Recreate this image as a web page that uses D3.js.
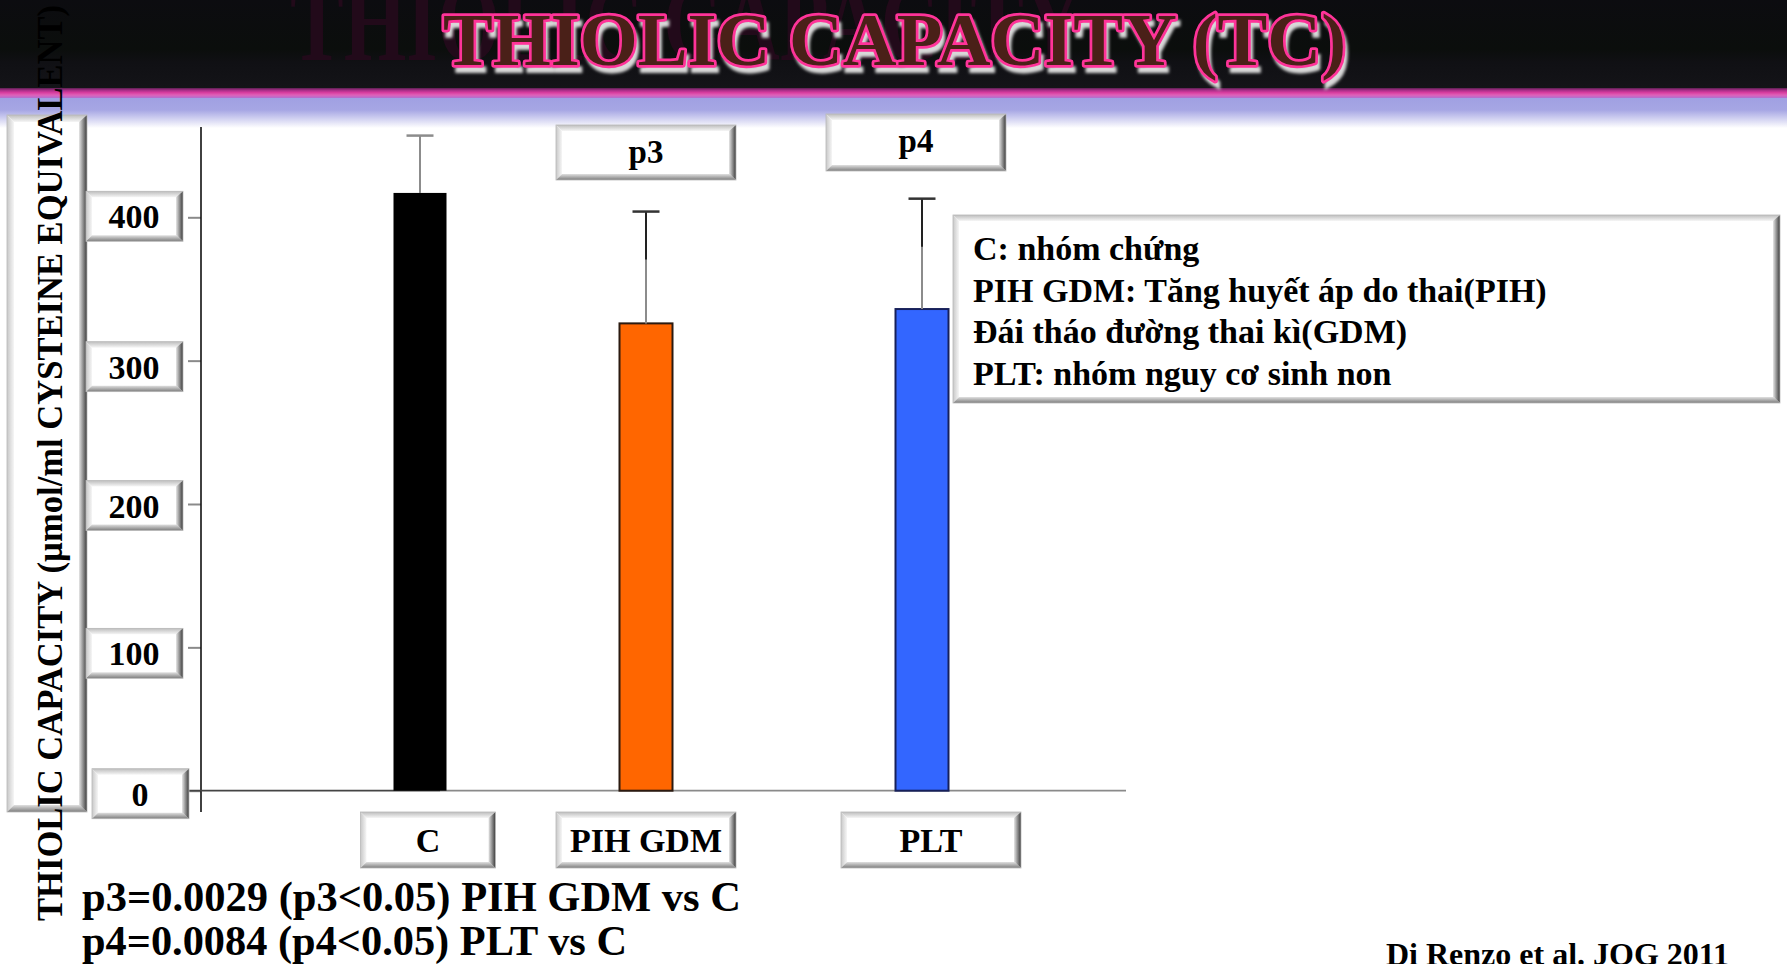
<!DOCTYPE html>
<html>
<head>
<meta charset="utf-8">
<script src="https://cdn.jsdelivr.net/npm/d3@7"></script>
<style>
  html, body { margin: 0; padding: 0; background: #ffffff; }
  svg { display: block; }
  text { font-family: "Liberation Serif", "Times New Roman", serif; font-weight: bold; }
</style>
</head>
<body>
<svg id="chart" width="1787" height="964"></svg>
<script>
// ---- data ----
const categories = ["C", "PIH GDM", "PLT"];
const meanValues = [417, 326, 336];
const sdValues = [40, 78, 77];
const barColors = ["#000000", "#ff6600", "#3366ff"];
const barOutlines = ["#000000", "#2b1a10", "#16205a"];
const yTicks = [0, 100, 200, 300, 400];
const compareLabels = ["p3", "p4"];
const compareGroups = ["PIH GDM", "PLT"];
const pValueLines = [
  "p3=0.0029 (p3<0.05) PIH GDM vs C",
  "p4=0.0084 (p4<0.05) PLT vs C"
];
const legendLines = [
  "C: nhóm chứng",
  "PIH GDM: Tăng huyết áp do thai(PIH)",
  "Đái tháo đường thai kì(GDM)",
  "PLT: nhóm nguy cơ sinh non"
];
const titleText = "THIOLIC CAPACITY (TC)";
const yTitle = "THIOLIC CAPACITY (µmol/ml  CYSTEINE EQUIVALENT)";
const sourceText = "Di Renzo et al. JOG 2011";

// ---- layout ----
const svg = d3.select("#chart");
const W = 1787, H = 964;
const defs = svg.append("defs");

function linGrad(id, x2, y2, stops) {
  const g = defs.append("linearGradient").attr("id", id)
    .attr("x1", 0).attr("y1", 0).attr("x2", x2).attr("y2", y2);
  stops.forEach(([o, c]) => g.append("stop").attr("offset", o).attr("stop-color", c));
}
linGrad("hdr", 0, 1, [[0, "#0c0c10"], [0.55, "#0b0e0c"], [0.7, "#101014"], [1, "#141418"]]);
linGrad("stripe", 0, 1, [[0, "#5a2050"], [0.2, "#a22c84"], [0.45, "#d63c9e"], [0.7, "#e060b8"], [1, "#b070d0"]]);
linGrad("lav", 0, 1, [[0, "#a0a0e2"], [0.4, "#a6a6e4"], [1, "#ffffff"]]);
linGrad("bvTop", 0, 1, [[0, "#bdbdbd"], [1, "#f6f6f6"]]);
linGrad("bvLeft", 1, 0, [[0, "#c8c8c8"], [1, "#f6f6f6"]]);
linGrad("bvRight", 1, 0, [[0, "#e6e6e6"], [1, "#3a3a3a"]]);
linGrad("bvBottom", 0, 1, [[0, "#e0e0e0"], [1, "#7c7c7c"]]);

const blur = defs.append("filter").attr("id", "soft").attr("x", "-10%").attr("y", "-30%")
  .attr("width", "120%").attr("height", "160%");
blur.append("feGaussianBlur").attr("stdDeviation", 1.6);

// bevelled panel used for every label box
function bevelBox(g, x, y, w, h, b = 6) {
  const p = g.append("g");
  p.append("rect").attr("x", x).attr("y", y).attr("width", w).attr("height", h).attr("fill", "#ffffff");
  const poly = (pts, fill) => p.append("polygon").attr("points", pts.map(d => d.join(",")).join(" ")).attr("fill", fill);
  poly([[x, y], [x + w, y], [x + w - b, y + b], [x + b, y + b]], "url(#bvTop)");
  poly([[x, y], [x + b, y + b], [x + b, y + h - b], [x, y + h]], "url(#bvLeft)");
  poly([[x + w, y], [x + w, y + h], [x + w - b - 1, y + h - b], [x + w - b - 1, y + b]], "url(#bvRight)");
  poly([[x, y + h], [x + w, y + h], [x + w - b, y + h - b], [x + b, y + h - b]], "url(#bvBottom)");
  p.append("rect").attr("x", x).attr("y", y).attr("width", w).attr("height", h)
    .attr("fill", "none").attr("stroke", "#b8b8b8").attr("stroke-width", 0.8);
  return p;
}

// ---- header band ----
svg.append("rect").attr("x", 0).attr("y", 0).attr("width", W).attr("height", 89).attr("fill", "url(#hdr)");
svg.append("rect").attr("x", 0).attr("y", 88).attr("width", W).attr("height", 10).attr("fill", "url(#stripe)");
svg.append("rect").attr("x", 0).attr("y", 98).attr("width", W).attr("height", 30).attr("fill", "url(#lav)");

// faint echo of the title in the header
svg.append("text").attr("x", 290).attr("y", 60)
  .attr("font-size", 112).attr("fill", "#220a1a")
  .attr("textLength", 792).attr("lengthAdjust", "spacingAndGlyphs")
  .text("THIOLIC CAPACITY");

// title: soft light shadow, pink outline, dark fill
svg.append("text").attr("x", 446).attr("y", 71)
  .attr("font-size", 75).attr("fill", "#d8d8d8").attr("stroke", "#d8d8d8").attr("stroke-width", 4)
  .attr("filter", "url(#soft)")
  .attr("textLength", 903).attr("lengthAdjust", "spacingAndGlyphs")
  .text(titleText);
svg.append("text").attr("x", 443).attr("y", 65)
  .attr("font-size", 75).attr("fill", "#4a2018").attr("stroke", "#ff3399").attr("stroke-width", 5.5)
  .attr("paint-order", "stroke").attr("stroke-linejoin", "round")
  .attr("textLength", 903).attr("lengthAdjust", "spacingAndGlyphs")
  .text(titleText);

// ---- scales ----
const y = d3.scaleLinear().domain([0, 400]).range([790.7, 217.3]);
const x = d3.scaleOrdinal().domain(categories).range([420, 646, 922]);
const barW = 53;

// ---- y-axis title panel ----
bevelBox(svg, 7, 115, 80, 697, 7);

// ---- axes ----
const yAxis = svg.append("g").attr("transform", "translate(201,0)")
  .call(d3.axisLeft(y).tickValues(yTicks).tickSize(13).tickFormat(""));
yAxis.select(".domain").remove();
yAxis.selectAll(".tick line").attr("stroke", "#8a8a8a").attr("stroke-width", 2);

svg.append("line").attr("x1", 201).attr("x2", 201).attr("y1", 127).attr("y2", 812)
  .attr("stroke", "#111").attr("stroke-width", 1.6);
svg.append("line").attr("x1", 189).attr("x2", 440).attr("y1", y(0)).attr("y2", y(0))
  .attr("stroke", "#444").attr("stroke-width", 1.8);
svg.append("line").attr("x1", 440).attr("x2", 1126).attr("y1", y(0)).attr("y2", y(0))
  .attr("stroke", "#8a8a8a").attr("stroke-width", 1.8);

// tick label panels (each panel sits a little off its tick)
const tickPanelShift = [3, 6, 1.5, 6, -1];
const tickG = svg.append("g");
yTicks.forEach((t, i) => {
  const bx = t === 0 ? 92 : 86;
  const cy = y(t) + tickPanelShift[i];
  bevelBox(tickG, bx, cy - 25, 97, 50);
  tickG.append("text").attr("x", bx + 48).attr("y", cy + 12)
    .attr("text-anchor", "middle").attr("font-size", 34).attr("fill", "#000").text(t);
});

// ---- bars ----
const bars = svg.append("g");
categories.forEach((c, i) => {
  bars.append("rect")
    .attr("x", x(c) - barW / 2).attr("y", y(meanValues[i]))
    .attr("width", barW).attr("height", y(0) - y(meanValues[i]))
    .attr("fill", barColors[i])
    .attr("stroke", barOutlines[i]).attr("stroke-width", i === 0 ? 0 : 2);
});

// ---- error bars (upper whisker only) ----
const errs = svg.append("g");
categories.forEach((c, i) => {
  const top = y(meanValues[i] + sdValues[i]);
  const base = y(meanValues[i]);
  errs.append("line").attr("x1", x(c)).attr("x2", x(c)).attr("y1", top).attr("y2", base)
    .attr("stroke", "#8c8c8c").attr("stroke-width", 2);
  if (i > 0) {
    errs.append("line").attr("x1", x(c)).attr("x2", x(c)).attr("y1", top).attr("y2", top + 48)
      .attr("stroke", "#222").attr("stroke-width", 2);
  }
  errs.append("line").attr("x1", x(c) - 13.5).attr("x2", x(c) + 13.5).attr("y1", top).attr("y2", top)
    .attr("stroke", i === 0 ? "#8c8c8c" : "#333").attr("stroke-width", 2.5);
});

// ---- comparison markers ----
const cmpBoxes = [{ dx: 0, top: 125, h: 55 }, { dx: -6, top: 114, h: 57 }];
compareLabels.forEach((lab, i) => {
  const cx = x(compareGroups[i]) + cmpBoxes[i].dx;
  bevelBox(svg, cx - 90, cmpBoxes[i].top, 180, cmpBoxes[i].h);
  svg.append("text").attr("x", cx).attr("y", cmpBoxes[i].top + 38)
    .attr("text-anchor", "middle").attr("font-size", 33).attr("fill", "#000").text(lab);
});

// ---- category label panels ----
const catBoxes = [{ dx: 8, w: 135 }, { dx: 0, w: 180 }, { dx: 9, w: 180 }];
categories.forEach((c, i) => {
  const cx = x(c) + catBoxes[i].dx;
  bevelBox(svg, cx - catBoxes[i].w / 2, 812, catBoxes[i].w, 56);
  svg.append("text").attr("x", cx).attr("y", 852)
    .attr("text-anchor", "middle").attr("font-size", 34).attr("fill", "#000").text(c);
});

// ---- legend panel ----
bevelBox(svg, 953, 215, 827, 188, 6);
legendLines.forEach((line, i) => {
  svg.append("text").attr("x", 973).attr("y", 260 + i * 41.7)
    .attr("font-size", 34).attr("fill", "#000").text(line);
});

// ---- rotated y-axis title ----
svg.append("text")
  .attr("transform", "translate(62,921) rotate(-90)")
  .attr("font-size", 36).attr("fill", "#000")
  .attr("textLength", 916).attr("lengthAdjust", "spacingAndGlyphs")
  .text(yTitle);

// ---- p-value notes ----
const pLineWidths = [659, 545];
pValueLines.forEach((line, i) => {
  svg.append("text").attr("x", 82).attr("y", 911 + i * 44)
    .attr("font-size", 42).attr("fill", "#000")
    .attr("textLength", pLineWidths[i]).attr("lengthAdjust", "spacingAndGlyphs")
    .text(line);
});

// ---- source ----
svg.append("text").attr("x", 1386).attr("y", 965)
  .attr("font-size", 32).attr("fill", "#000").text(sourceText);
</script>
</body>
</html>
